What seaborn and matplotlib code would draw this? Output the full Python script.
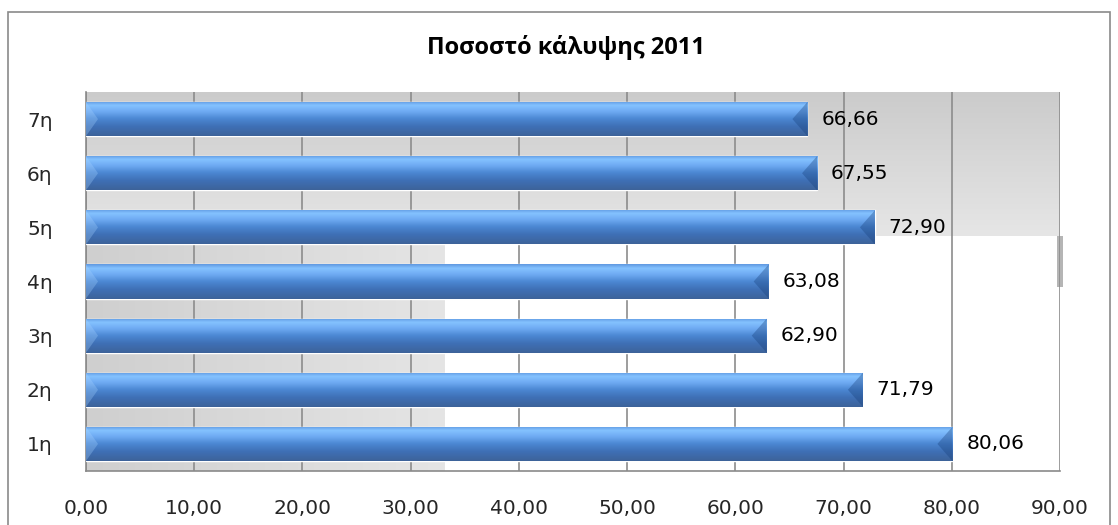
import numpy as np
import pandas as pd
import matplotlib
matplotlib.use("Agg")
import matplotlib.pyplot as plt
import seaborn as sns
from matplotlib.colors import LinearSegmentedColormap
from matplotlib.patches import Rectangle, Polygon

# data
categories = ['1η', '2η', '3η', '4η', '5η', '6η', '7η']
values = [80.06, 71.79, 62.90, 63.08, 72.90, 67.55, 66.66]
x_ticks = [0, 10, 20, 30, 40, 50, 60, 70, 80, 90]
title = 'Ποσοστό κάλυψης 2011'

df = pd.DataFrame({'cat': categories, 'val': values})
order = categories[::-1]  # 7η on top

sns.set_style("white")
plt.rcParams['font.family'] = ['DejaVu Sans']

W, H = 1118, 525
fig = plt.figure(figsize=(W / 100, H / 100), dpi=100)
fig.patch.set_facecolor('white')

# outer chart border
fig.patches.append(Rectangle((8 / W, -0.05), (1110 - 8) / W, 1.05 - 12 / H,
                             transform=fig.transFigure, fill=False,
                             edgecolor='#8a8a8a', lw=1.2))

left, right, top, bottom = 86, 1060, 92, 471
ax = fig.add_axes([left / W, 1 - bottom / H, (right - left) / W, (bottom - top) / H])

sns.barplot(data=df, y='cat', x='val', order=order, orient='h',
            color='#4a86d2', width=0.63, ax=ax, zorder=3)

ax.set_xlim(0, 90)
ax.set_ylim(len(categories) - 0.5, -0.5)
ax.set_autoscale_on(False)

# background bands (rendering artefacts of the original)
band = 0.62
g_v = np.linspace(0, 1, 256).reshape(-1, 1)
cm_v = LinearSegmentedColormap.from_list('bg_v', ['#e6e6e6', '#cbcbcb'])
ax.imshow(g_v, cmap=cm_v, extent=(0, 1, band, 1), origin='lower',
          transform=ax.transAxes, aspect='auto', zorder=0)
g_h = np.linspace(0, 1, 256).reshape(1, -1)
cm_h = LinearSegmentedColormap.from_list('bg_h', ['#cfcfcf', '#e5e5e5'])
ax.imshow(g_h, cmap=cm_h, extent=(0, 0.368, 0, band),
          transform=ax.transAxes, aspect='auto', zorder=0)
ax.add_patch(Rectangle((0.997, band - 0.135), 0.006, 0.135, transform=ax.transAxes,
                       facecolor='#b5b5b5', edgecolor='none', zorder=1, clip_on=False))

# gridlines
for t in x_ticks:
    ax.axvline(t, color='#8c8c8c', lw=1.2, zorder=1)

# gradient fill on bars
bar_cm = LinearSegmentedColormap.from_list(
    'bar', [(0, '#5f98e0'), (0.12, '#84c2ff'), (0.3, '#6eaaf2'),
            (0.5, '#4c88d3'), (0.72, '#3f70b6'), (1, '#3d6399')])
grad = np.linspace(0, 1, 256).reshape(-1, 1)
px_per_unit = (right - left) / 90
d = 15 / px_per_unit
for p in list(ax.patches):
    if not isinstance(p, Rectangle) or p.get_height() == 0 or p.get_width() < 1:
        continue
    x0, y0, w, h = p.get_x(), p.get_y(), p.get_width(), p.get_height()
    x1, y1, yc = x0 + w, y0 + h, y0 + h / 2
    im = ax.imshow(grad, cmap=bar_cm, extent=(x0, x1, y1, y0), origin='upper',
                   aspect='auto', zorder=4)
    im.set_clip_path(p)
    ax.add_patch(Polygon([(x1 - d, yc), (x1, y0), (x1, y1)], closed=True,
                         facecolor='#173f7a', alpha=0.35, edgecolor='none', zorder=5))
    ax.add_patch(Polygon([(x0, y0), (x0 + d * 0.8, yc), (x0, y1)], closed=True,
                         facecolor='#a8d4ff', alpha=0.3, edgecolor='none', zorder=5))
    ax.annotate(f"{w:.2f}".replace('.', ','), (x1, yc), xytext=(10, 0),
                textcoords='offset points', va='center', ha='left',
                fontsize=14.5, color='black', zorder=6)

ax.set_xlim(0, 90)
ax.set_ylim(len(categories) - 0.5, -0.5)

# axes styling
ax.set_xticks(x_ticks)
ax.set_xticklabels([f"{t:.2f}".replace('.', ',') for t in x_ticks], fontsize=14.5)
ax.set_yticks(range(len(order)))
ax.set_yticklabels(order, fontsize=14.5)
ax.set_yticks(np.arange(-0.5, len(order), 1), minor=True)
ax.tick_params(axis='y', which='major', length=0, pad=24)
ax.tick_params(axis='y', which='minor', length=6, color='#8a8a8a', width=1.2)
ax.tick_params(axis='x', which='major', length=6, color='#8a8a8a', width=1.2,
               direction='out', pad=14)
ax.set_xlabel('')
ax.set_ylabel('')
for s in ['top', 'right']:
    ax.spines[s].set_visible(False)
for s in ['left', 'bottom']:
    ax.spines[s].set_color('#8a8a8a')
    ax.spines[s].set_linewidth(1.2)
    ax.spines[s].set_zorder(2)

fig.text(566 / W, 1 - 48 / H, title, ha='center', va='center', color='black',
         fontsize=17, fontweight='bold', family=['Open Sans', 'DejaVu Sans'])

fig.savefig('out.png', dpi=100)
